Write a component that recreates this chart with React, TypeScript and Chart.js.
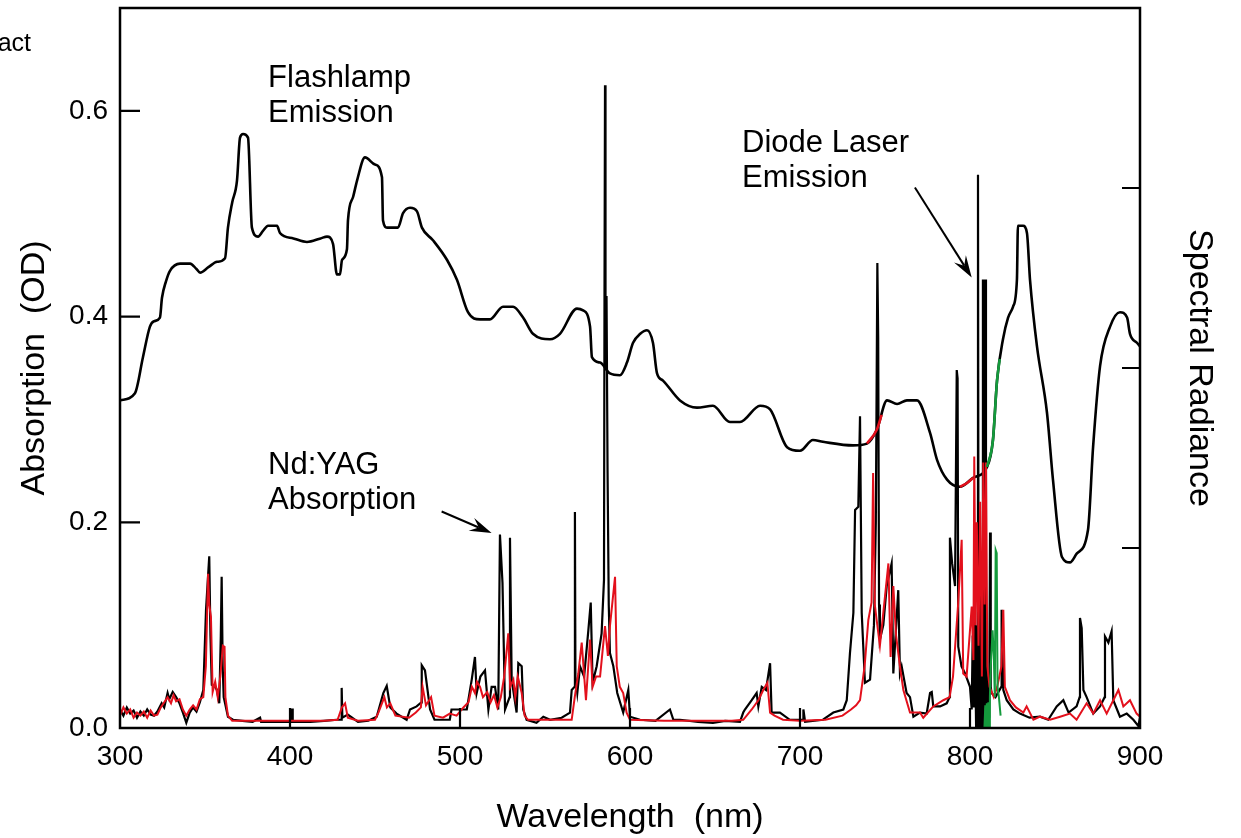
import { useEffect, useRef } from 'react';
import { Chart, registerables } from 'chart.js';

Chart.register(...registerables);

const FONT = '"Liberation Sans", Arial, Helvetica, sans-serif';

// Axis ticks
const wavelengthTicks = [300, 400, 500, 600, 700, 800, 900];
const absorptionTicks = [0, 0.2, 0.4, 0.6];
const radianceTicks = [1, 2, 3];

// Flashlamp emission: [wavelength nm, spectral radiance (arb.)]
const flashlamp: [number, number][] = [
  [300, 1.82], [308.8, 1.86], [313.5, 2.06], [317.6, 2.23], [320, 2.26], [323.5, 2.28], [324.7, 2.39],
  [327, 2.48], [329.4, 2.54], [335.3, 2.58], [341.2, 2.58], [345, 2.55], [347.1, 2.53], [352, 2.56],
  [357.1, 2.59], [361.8, 2.61], [363.5, 2.78], [366, 2.92], [368.8, 3.04], [370.6, 3.28], [372.4, 3.3],
  [375.3, 3.28], [377.6, 2.78], [381.2, 2.73], [384, 2.76], [387.1, 2.79], [392.4, 2.79], [394.1, 2.75],
  [402, 2.72], [410, 2.7], [418, 2.72], [421.8, 2.73], [425.3, 2.69], [427.6, 2.52], [429.4, 2.52],
  [430.6, 2.6], [433.5, 2.66], [434.1, 2.82], [437.1, 2.95], [439.4, 3.04], [444.1, 3.17], [450, 3.13],
  [454.1, 3.06], [454.7, 2.82], [457.1, 2.78], [463.5, 2.78], [466.5, 2.86], [470.6, 2.89], [474.7, 2.87],
  [477.6, 2.78], [484.1, 2.71], [492.4, 2.6], [498.2, 2.49], [504.7, 2.31], [511.8, 2.27], [517.6, 2.27],
  [525.3, 2.34], [531.2, 2.34], [537.1, 2.28], [542.9, 2.19], [552.9, 2.16], [558.8, 2.19], [568.8, 2.33],
  [572.4, 2.32], [576.5, 2.23], [577.6, 2.06], [582.4, 2.03], [588.2, 1.97], [594.1, 1.96], [598.2, 2.03],
  [601.8, 2.14], [606, 2.19], [610, 2.21], [613.5, 2.14], [615.9, 1.97], [619.4, 1.93], [629.4, 1.82],
  [639.4, 1.78], [648.8, 1.79], [658.8, 1.7], [664.7, 1.7], [676.5, 1.79], [682.4, 1.77], [692.4, 1.56],
  [700, 1.54], [707.6, 1.6], [713.5, 1.59], [731.2, 1.57], [739.4, 1.58], [745.3, 1.66], [751.2, 1.82],
  [757.1, 1.8], [762.9, 1.82], [768.8, 1.82], [776.5, 1.64], [780.6, 1.49], [786.5, 1.38], [794.1, 1.34],
  [801.8, 1.39], [810, 1.45], [813.5, 1.6], [815.9, 1.93], [819.4, 2.16], [822.4, 2.28], [825.3, 2.34],
  [827.6, 2.49], [828.2, 2.79], [831.2, 2.79], [833.5, 2.75], [835.3, 2.49], [839.4, 2.12], [845.3, 1.75],
  [848.8, 1.38], [854.1, 0.95], [858.8, 0.92], [862.9, 0.97], [869.4, 1.1], [872.4, 1.56], [876.5, 2.01],
  [882.4, 2.23], [888.2, 2.31], [892.4, 2.28], [894.1, 2.19], [898.2, 2.14], [900, 2.12],
];

// Parts of the flashlamp curve shown in green and in red
const flashlampGreen: [number, number][] = [
  [810, 1.45], [813.5, 1.6], [815.9, 1.93], [817.5, 2.05],
];
const flashlampRedA: [number, number][] = [
  [739.4, 1.58], [745.3, 1.66], [748, 1.74],
];
const flashlampRedB: [number, number][] = [
  [794.1, 1.34], [798, 1.36], [801.8, 1.39],
];

// Nd:YAG absorption (black trace): [wavelength nm, OD]
const ndyagBlack: [number, number][] = [
  [300, 0.018], [302, 0.012], [304, 0.02], [306, 0.014], [308, 0.017], [310, 0.01], [312, 0.016], [314, 0.012],
  [316, 0.018], [318, 0.013], [320, 0.012], [322, 0.016], [324.5, 0.024], [326, 0.02], [328, 0.034], [329, 0.028],
  [331, 0.035], [333, 0.03], [335, 0.024], [337, 0.015], [339, 0.005], [341, 0.015], [343, 0.02], [345, 0.016],
  [347, 0.025], [349, 0.037], [350.6, 0.115], [352.5, 0.167], [353.2, 0.09], [354, 0.042], [356, 0.04], [357, 0.037],
  [358.4, 0.024], [359.3, 0.09], [359.8, 0.147], [360.4, 0.06], [361, 0.03], [361.8, 0.024], [363.5, 0.011],
  [366.5, 0.008], [372, 0.007], [378, 0.006], [382.4, 0.01], [383, 0.006], [392, 0.006], [400.8, 0.006],
  [401.2, 0.019], [401.6, 0.006], [412, 0.006], [420, 0.007], [427.5, 0.008], [430.2, 0.008], [430.4, 0.039],
  [430.8, 0.01], [434, 0.013], [440, 0.006], [446, 0.007], [451, 0.011], [454.9, 0.034], [456.9, 0.041],
  [459, 0.02], [462.7, 0.014], [468.6, 0.008], [470.6, 0.018], [474.5, 0.021], [477.3, 0.025], [477.5, 0.061],
  [479.4, 0.056], [482.4, 0.018], [485, 0.008], [494, 0.008], [495, 0.018], [500, 0.018], [504, 0.018],
  [506.9, 0.047], [508.8, 0.069], [509.8, 0.034], [512, 0.05], [514.7, 0.056], [516.7, 0.018], [518.6, 0.04],
  [520.6, 0.04], [522.5, 0.018], [523.5, 0.188], [525, 0.141], [526.5, 0.018], [529.2, 0.03], [529.4, 0.185],
  [530.4, 0.047], [533.3, 0.015], [534.3, 0.063], [536.3, 0.06], [537.2, 0.018], [539.2, 0.008], [545, 0.005],
  [549, 0.011], [553, 0.008], [559.8, 0.01], [564.7, 0.015], [565.7, 0.037], [567.4, 0.04], [567.6, 0.21],
  [567.9, 0.05], [569, 0.034], [570.6, 0.06], [573, 0.05], [575.5, 0.095], [576.9, 0.122], [578, 0.044],
  [580.4, 0.06], [583.3, 0.092], [584.7, 0.144], [585, 0.42], [585.3, 0.625], [585.6, 0.35], [586.2, 0.42],
  [586.8, 0.25], [587.5, 0.12], [588.2, 0.073], [590.2, 0.06], [592.5, 0.034], [596, 0.015], [599, 0.037],
  [600, 0.011], [605.9, 0.008], [615, 0.007], [623.5, 0.018], [625.5, 0.008], [629.4, 0.008], [640, 0.006],
  [648.8, 0.005], [656, 0.007], [664.7, 0.006], [666.6, 0.015], [667.6, 0.018], [671.6, 0.027], [674.5, 0.034],
  [675.5, 0.021], [677.5, 0.04], [680, 0.037], [682.4, 0.063], [683.3, 0.015], [688.2, 0.015], [694, 0.008],
  [701.8, 0.008], [702, 0.018], [703, 0.006], [713.5, 0.008], [719.6, 0.015], [725.5, 0.018], [727.5, 0.027],
  [729.4, 0.073], [731.4, 0.112], [732.4, 0.212], [734.3, 0.215], [735.3, 0.303], [736.3, 0.112], [738.2, 0.044],
  [741.2, 0.047], [743.5, 0.1], [744.6, 0.2], [745.5, 0.452], [746, 0.38], [746.5, 0.12], [747, 0.086],
  [749, 0.1], [751, 0.138], [753.9, 0.16], [754.9, 0.053], [757.8, 0.134], [758.8, 0.053], [759.8, 0.06],
  [762.7, 0.034], [764.7, 0.03], [766.7, 0.011], [770.6, 0.015], [774.5, 0.014], [776.5, 0.034], [777.5, 0.035],
  [778.4, 0.021], [782.4, 0.021], [786.3, 0.024], [788, 0.03], [788.2, 0.185], [789.5, 0.16], [791.2, 0.138],
  [792.2, 0.348], [792.7, 0.34], [793.1, 0.079], [795, 0.06], [797.1, 0.053], [800, 0.04], [801, 0.018],
  [801.6, 0.09], [802.2, 0.02], [802.7, 0.188], [803.2, 0.05], [803.6, 0.0], [803.9, 0.1], [804.3, 0.0],
  [804.7, 0.538], [805.1, 0.0], [805.5, 0.09], [805.9, 0.0], [806.3, 0.15], [806.7, 0.0], [807.1, 0.08],
  [807.6, 0.436], [808, 0.0], [808.3, 0.436], [808.7, 0.02], [809, 0.436], [809.4, 0.0], [809.8, 0.06],
  [810.3, 0.0], [810.8, 0.05], [811.3, 0.01], [811.8, 0.19], [812.2, 0.04], [812.7, 0.034], [815, 0.03],
  [818.4, 0.04], [818.6, 0.115], [819.6, 0.037], [821.6, 0.027], [825.5, 0.018], [829.4, 0.014], [835, 0.01],
  [841.2, 0.011], [846, 0.008], [851, 0.021], [854.9, 0.027], [858, 0.015], [862.7, 0.021], [864.5, 0.03],
  [864.7, 0.107], [865.7, 0.097], [866.7, 0.037], [868.6, 0.03], [872.5, 0.014], [876.5, 0.021], [879.2, 0.03],
  [879.4, 0.089], [881.4, 0.083], [883.3, 0.094], [884.3, 0.027], [888.2, 0.011], [892.2, 0.014], [896.1, 0.008],
  [899, 0.002], [900, 0.01],
];

// Nd:YAG absorption (red trace): [wavelength nm, OD]
const ndyagRed: [number, number][] = [
  [300, 0.012], [302, 0.02], [304, 0.014], [306, 0.018], [308, 0.01], [310, 0.015], [312, 0.012], [314, 0.016],
  [316, 0.01], [318, 0.017], [320, 0.012], [322, 0.013], [324, 0.02], [326, 0.025], [328, 0.03], [330, 0.024],
  [331.5, 0.032], [333, 0.026], [335, 0.028], [337, 0.018], [339, 0.012], [341, 0.018], [343, 0.022], [345, 0.018],
  [347, 0.028], [349, 0.03], [350.5, 0.06], [351.8, 0.15], [352.5, 0.12], [353.5, 0.108], [354.5, 0.035],
  [356, 0.045], [357.5, 0.03], [359, 0.05], [360.5, 0.08], [361.5, 0.079], [362, 0.03], [363.5, 0.012],
  [366, 0.007], [380, 0.007], [400, 0.007], [420, 0.007], [428, 0.008], [430.5, 0.02], [432.4, 0.024],
  [434, 0.01], [440, 0.007], [450, 0.008], [452, 0.015], [455.5, 0.03], [457, 0.02], [459, 0.024], [462, 0.012],
  [470, 0.01], [474, 0.015], [477, 0.02], [478, 0.04], [480, 0.022], [483, 0.03], [485, 0.012], [490, 0.01],
  [494, 0.014], [498, 0.012], [502, 0.02], [505, 0.025], [507, 0.04], [508.8, 0.034], [510, 0.045],
  [511.8, 0.04], [513.5, 0.03], [516, 0.035], [518, 0.025], [520, 0.032], [522, 0.02], [524, 0.03], [526, 0.05],
  [528.4, 0.092], [529.5, 0.04], [531.4, 0.047], [532.5, 0.03], [534, 0.05], [536.3, 0.034], [538, 0.012],
  [540, 0.008], [560, 0.008], [565.7, 0.008], [567.5, 0.03], [569.6, 0.053], [571.6, 0.083], [574.1, 0.027],
  [576.5, 0.086], [578, 0.04], [580, 0.05], [582.4, 0.05], [585.3, 0.099], [587, 0.07], [588.2, 0.099],
  [591.2, 0.147], [592.2, 0.06], [594, 0.04], [596, 0.034], [598, 0.015], [600, 0.008], [620, 0.007],
  [640, 0.007], [660, 0.007], [666.6, 0.008], [671.6, 0.018], [675.5, 0.027], [678.4, 0.037], [680.8, 0.044],
  [682.4, 0.015], [685, 0.012], [690, 0.008], [700, 0.007], [715, 0.008], [725, 0.012], [730, 0.018],
  [733, 0.022], [735.3, 0.027], [738, 0.06], [740.2, 0.105], [742.1, 0.122], [743, 0.248], [744, 0.12],
  [745.1, 0.105], [747, 0.08], [750, 0.128], [752, 0.16], [753.3, 0.069], [754.9, 0.138], [756.5, 0.09],
  [758.8, 0.06], [760.8, 0.037], [764.7, 0.015], [770.6, 0.015], [772.5, 0.01], [778.4, 0.021], [784.3, 0.027],
  [788, 0.03], [790, 0.05], [793, 0.12], [795.1, 0.183], [796, 0.053], [798, 0.05], [801, 0.118], [802, 0.066],
  [802.5, 0.264], [803.3, 0.1], [804, 0.2], [805, 0.08], [806, 0.22], [807, 0.05], [807.8, 0.258],
  [808.6, 0.12], [809.4, 0.258], [810.2, 0.06], [811.5, 0.04], [814, 0.03], [816, 0.04], [818.5, 0.06],
  [819.6, 0.115], [820.5, 0.04], [823.5, 0.027], [827, 0.02], [831.4, 0.015], [833.3, 0.021], [837.3, 0.008],
  [841.2, 0.011], [847.1, 0.008], [853, 0.011], [858.8, 0.014], [862.7, 0.008], [868.6, 0.024], [872.5, 0.014],
  [876.5, 0.027], [880.4, 0.014], [884.3, 0.027], [887.3, 0.037], [890.2, 0.021], [894.1, 0.027], [898, 0.014],
  [900, 0.011],
];

// Diode-pumped absorption (green trace): [wavelength nm, OD]
const diodeGreen: [number, number][] = [
  [808.5, 0.0], [809, 0.022], [809.4, 0.0], [809.9, 0.024], [810.3, 0.0], [810.8, 0.025], [811.2, 0.0],
  [811.7, 0.03], [812.2, 0.06], [813.3, 0.095], [814, 0.07], [814.6, 0.03], [815.1, 0.173], [815.7, 0.17],
  [816.2, 0.04], [817, 0.03], [818, 0.012],
];

const toXY = (pairs: [number, number][]) => pairs.map(([x, y]) => ({ x, y }));

function drawArrow(ctx: CanvasRenderingContext2D, x1: number, y1: number, x2: number, y2: number) {
  const ang = Math.atan2(y2 - y1, x2 - x1);
  const len = 22;
  const half = 7;
  const notch = 14;
  ctx.beginPath();
  ctx.moveTo(x1, y1);
  ctx.lineTo(x2 - Math.cos(ang) * notch, y2 - Math.sin(ang) * notch);
  ctx.lineWidth = 2;
  ctx.strokeStyle = '#000';
  ctx.stroke();
  const bx = x2 - Math.cos(ang) * len;
  const by = y2 - Math.sin(ang) * len;
  const px = -Math.sin(ang);
  const py = Math.cos(ang);
  ctx.beginPath();
  ctx.moveTo(x2, y2);
  ctx.lineTo(bx + px * half, by + py * half);
  ctx.lineTo(x2 - Math.cos(ang) * notch, y2 - Math.sin(ang) * notch);
  ctx.lineTo(bx - px * half, by - py * half);
  ctx.closePath();
  ctx.fillStyle = '#000';
  ctx.fill();
}

const framePlugin = {
  id: 'framePlugin',
  afterDraw(chart: any) {
    const { ctx, chartArea, scales } = chart;
    const { left, right, top, bottom } = chartArea;
    const x = scales.x;
    const y = scales.y;
    const y1 = scales.y1;
    ctx.save();
    ctx.strokeStyle = '#000';
    ctx.lineWidth = 2.5;
    ctx.strokeRect(left, top, right - left, bottom - top);
    ctx.lineWidth = 2.2;
    ctx.beginPath();
    wavelengthTicks.slice(1, -1).forEach((v) => {
      const px = x.getPixelForValue(v);
      ctx.moveTo(px, bottom);
      ctx.lineTo(px, bottom - 20);
    });
    absorptionTicks.slice(1).forEach((v) => {
      const py = y.getPixelForValue(v);
      ctx.moveTo(left, py);
      ctx.lineTo(left + 20, py);
    });
    radianceTicks.forEach((v) => {
      const py = y1.getPixelForValue(v);
      ctx.moveTo(right, py);
      ctx.lineTo(right - 18, py);
    });
    ctx.stroke();

    ctx.fillStyle = '#000';
    // Axis titles
    ctx.font = `34px ${FONT}`;
    ctx.textAlign = 'center';
    ctx.textBaseline = 'alphabetic';
    ctx.fillText('Wavelength  (nm)', (left + right) / 2, 827);
    ctx.save();
    ctx.translate(44, (top + bottom) / 2);
    ctx.rotate(-Math.PI / 2);
    ctx.fillText('Absorption  (OD)', 0, 0);
    ctx.restore();
    ctx.save();
    ctx.translate(1190, (top + bottom) / 2);
    ctx.rotate(Math.PI / 2);
    ctx.fillText('Spectral Radiance', 0, 0);
    ctx.restore();

    // Cropped heading at top-left
    ctx.font = `25px ${FONT}`;
    ctx.textAlign = 'right';
    ctx.fillText('Abstract', 31, 51);

    // Annotations
    ctx.font = `31px ${FONT}`;
    ctx.textAlign = 'left';
    const label = (lines: string[], nm: number, od: number) => {
      const px = x.getPixelForValue(nm);
      const py = y.getPixelForValue(od);
      lines.forEach((t, i) => ctx.fillText(t, px, py + i * 35));
    };
    label(['Flashlamp', 'Emission'], 387.1, 0.623);
    label(['Diode Laser', 'Emission'], 665.9, 0.5596);
    label(['Nd:YAG', 'Absorption'], 387.1, 0.2472);

    drawArrow(ctx, x.getPixelForValue(489.2), y.getPixelForValue(0.2105), x.getPixelForValue(518.6), y.getPixelForValue(0.1895));
    drawArrow(ctx, x.getPixelForValue(767.6), y.getPixelForValue(0.5255), x.getPixelForValue(801), y.getPixelForValue(0.438));
    ctx.restore();
  },
};

export default function App() {
  const canvasRef = useRef<HTMLCanvasElement | null>(null);

  useEffect(() => {
    if (!canvasRef.current) return;
    const tickFont = { family: FONT, size: 28 };
    const noPad = (s: any) => {
      s.paddingTop = 0;
      s.paddingBottom = 0;
      s.paddingLeft = 0;
      s.paddingRight = 0;
    };
    const flashStyle = { yAxisID: 'y1', borderWidth: 2.6, pointRadius: 0, cubicInterpolationMode: 'monotone' };
    const chart = new Chart(canvasRef.current, {
      type: 'line',
      data: {
        datasets: [
          { ...flashStyle, data: toXY(flashlampGreen), borderColor: '#149a3c', order: 0 },
          { ...flashStyle, data: toXY(flashlampRedA), borderColor: '#e3101c', order: 0 },
          { ...flashStyle, data: toXY(flashlampRedB), borderColor: '#e3101c', order: 0 },
          { data: toXY(diodeGreen), yAxisID: 'y', borderColor: '#149a3c', borderWidth: 2, pointRadius: 0, tension: 0, order: 1 },
          { data: toXY(ndyagRed), yAxisID: 'y', borderColor: '#e3101c', borderWidth: 2, pointRadius: 0, tension: 0, order: 2 },
          { data: toXY(ndyagBlack), yAxisID: 'y', borderColor: '#000', borderWidth: 2.2, pointRadius: 0, tension: 0, order: 3 },
          { ...flashStyle, data: toXY(flashlamp), borderColor: '#000', order: 4 },
        ] as any,
      },
      options: {
        responsive: false,
        animation: false,
        devicePixelRatio: 1,
        events: [],
        layout: { padding: { top: 8, left: 0, right: 0, bottom: 0 } },
        plugins: { legend: { display: false }, tooltip: { enabled: false } },
        scales: {
          x: {
            type: 'linear',
            min: 300,
            max: 900,
            afterBuildTicks: (s: any) => { s.ticks = wavelengthTicks.map((v) => ({ value: v })); },
            ticks: { font: tickFont, color: '#000', padding: 12, maxRotation: 0, autoSkip: false, callback: (v: any) => String(v) },
            grid: { display: false, drawTicks: false },
            border: { display: false },
            afterFit: (s: any) => { s.height = 110; noPad(s); },
          },
          y: {
            type: 'linear',
            position: 'left',
            min: 0,
            max: 0.7,
            afterBuildTicks: (s: any) => { s.ticks = absorptionTicks.map((v) => ({ value: v })); },
            ticks: { font: tickFont, color: '#000', padding: 12, autoSkip: false, callback: (v: any) => Number(v).toFixed(1) },
            grid: { display: false, drawTicks: false },
            border: { display: false },
            afterFit: (s: any) => { s.width = 120; noPad(s); },
          },
          y1: {
            type: 'linear',
            position: 'right',
            min: 0,
            max: 4,
            afterBuildTicks: (s: any) => { s.ticks = radianceTicks.map((v) => ({ value: v })); },
            ticks: { display: false },
            grid: { display: false, drawTicks: false },
            border: { display: false },
            afterFit: (s: any) => { s.width = 101; noPad(s); },
          },
        },
      } as any,
      plugins: [framePlugin],
    });
    return () => chart.destroy();
  }, []);

  return (
    <div style={{ position: 'absolute', left: 0, top: 0, width: 1241, height: 838, background: '#fff' }}>
      <canvas ref={canvasRef} width={1241} height={838} style={{ width: 1241, height: 838, display: 'block' }} />
    </div>
  );
}
